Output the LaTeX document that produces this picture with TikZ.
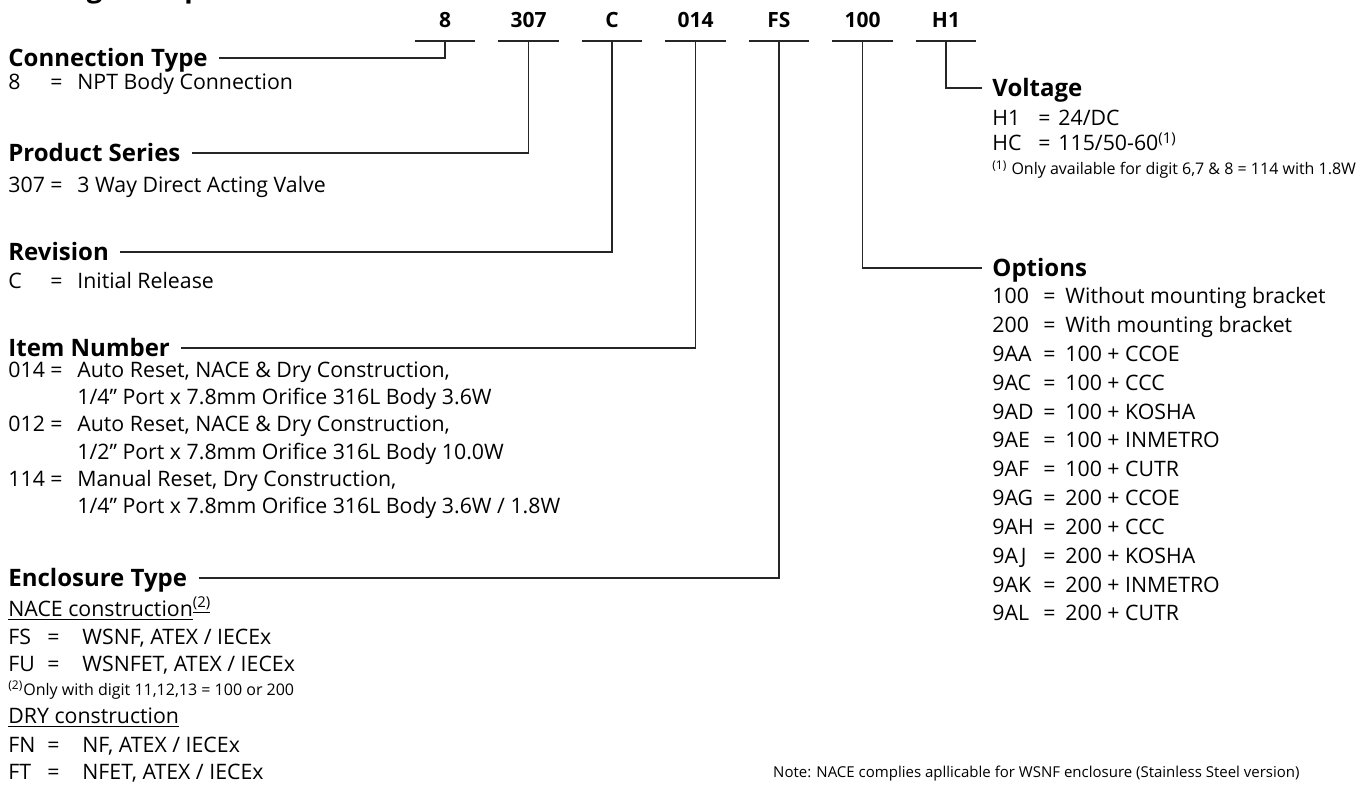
\documentclass[tikz,border=0pt]{standalone}
\usepackage{fontspec}
\setmainfont{Open Sans}

\newcommand{\headfont}{\bfseries\fontsize{12pt}{14pt}\selectfont}
\newcommand{\codefont}{\bfseries\fontsize{10.5pt}{12pt}\selectfont}
\newcommand{\itemfont}{\fontsize{10.65pt}{13pt}\selectfont}
\newcommand{\notefont}{\fontsize{7.5pt}{9pt}\selectfont}
% code column, "=" column, then the value
\newcommand{\entry}[4]{\makebox[#1][l]{#3}\makebox[#2][l]{=}#4}

\tikzset{
  head/.style={anchor=west, inner sep=0pt, text height=8.5pt, text depth=0pt, font=\headfont},
  code/.style={anchor=base, inner sep=0pt, minimum width=30pt, text depth=6.4pt, font=\codefont},
  item/.style={anchor=base west, inner sep=0pt, font=\itemfont},
  foot/.style={anchor=base west, inner sep=0pt, font=\fontsize{8pt}{9pt}\selectfont},
  lead/.style={line width=0.75pt, black!85},
}

\begin{document}
\begin{tikzpicture}[x=0.5pt, y=-0.5pt]
  \useasboundingbox (0,0) rectangle (1370,785);
  \clip (0,0) rectangle (1370,785);
  \node[anchor=base west, inner sep=0pt, font=\bfseries\fontsize{13.75pt}{16pt}\selectfont] (title) at (8,-2.6) {Coding Example};

  % code digits with their underlines
  \foreach \c [count=\i] in {8,307,C,014,FS,100,H1} {
    \node[code] (k\i) at ({445+83.5*(\i-1)},28) {\c};
    \draw[lead] (k\i.south west) -- (k\i.south east);
  }

  % left column
  \node[head] (conn) at (8,58) {Connection Type};
  \node[item] (conn1) at (8,90) {\entry{21pt}{13.5pt}{8}{NPT Body Connection}};

  \node[head] (series) at (8,153) {Product Series};
  \node[item] (series1) at (8,192.5) {\entry{21pt}{13.5pt}{307}{3 Way Direct Acting Valve}};

  \node[head] (rev) at (8,252) {Revision};
  \node[item] (rev1) at (8,288.5) {\entry{21pt}{13.5pt}{C}{Initial Release}};

  \node[head] (item) at (8,348) {Item Number};
  \node[item] (item1) at (8,378) {\entry{21pt}{13.5pt}{014}{Auto Reset, NACE \& Dry Construction,}};
  \node[item] (item1b) at (77,405) {1/4” Port x 7.8mm Orifice 316L Body 3.6W};
  \node[item] (item2) at (8,432) {\entry{21pt}{13.5pt}{012}{Auto Reset, NACE \& Dry Construction,}};
  \node[item] (item2b) at (77,460) {1/2” Port x 7.8mm Orifice 316L Body 10.0W};
  \node[item] (item3) at (8,487) {\entry{21pt}{13.5pt}{114}{Manual Reset, Dry Construction,}};
  \node[item] (item3b) at (77,514) {1/4” Port x 7.8mm Orifice 316L Body 3.6W / 1.8W};

  \node[head] (encl) at (8,578) {Enclosure Type};
  \node[item] (nace) at (8,616) {\underline{NACE construction}\textsuperscript{\underline{(2)}}};
  \node[item] (encl1) at (8,644) {\entry{19.5pt}{17.5pt}{FS}{WSNF, ATEX / IECEx}};
  \node[item] (encl2) at (8,671) {\entry{19.5pt}{17.5pt}{FU}{WSNFET, ATEX / IECEx}};
  \node[foot] (nacefoot) at (8,695) {\textsuperscript{(2)}Only with digit 11,12,13 = 100 or 200};
  \node[item] (dry) at (8,723) {\underline{DRY construction}};
  \node[item] (encl3) at (8,752) {\entry{19.5pt}{17.5pt}{FN}{NF, ATEX / IECEx}};
  \node[item] (encl4) at (8,779) {\entry{19.5pt}{17.5pt}{FT}{NFET, ATEX / IECEx}};

  % right column
  \node[head] (volt) at (992,88) {Voltage};
  \node[item] (volt1) at (992,126) {\entry{23pt}{10pt}{H1}{24/DC}};
  \node[item] (volt2) at (992,151) {\entry{23pt}{10pt}{HC}{115/50-60\textsuperscript{(1)}}};
  \node[foot] (voltfoot) at (992,175) {\textsuperscript{(1)} Only available for digit 6,7 \& 8 = 114 with 1.8W};

  \node[head] (opt) at (992,268) {Options};
  \foreach \k/\v [count=\i] in {100/Without mounting bracket, 200/With mounting bracket,
      9AA/100 + CCOE, 9AC/100 + CCC, 9AD/100 + KOSHA, 9AE/100 + INMETRO, 9AF/100 + CUTR,
      9AG/200 + CCOE, 9AH/200 + CCC, 9AJ/200 + KOSHA, 9AK/200 + INMETRO, 9AL/200 + CUTR}
    \node[item] (opt\i) at (992,{304+28.8*(\i-1)}) {\entry{25.5pt}{11pt}{\k}{\v}};

  \node[anchor=base east, inner sep=0pt, font=\notefont] (note) at (1300,777) {Note: NACE complies apllicable for WSNF enclosure (Stainless Steel version)};

  % leaders from the headings to the code digits
  \draw[lead] ([xshift=5.5pt]conn.east) -| (k1.south);
  \draw[lead] ([xshift=5.5pt]series.east) -| (k2.south);
  \draw[lead] ([xshift=5.5pt]rev.east) -| (k3.south);
  \draw[lead] ([xshift=5.5pt]item.east) -| (k4.south);
  \draw[lead] ([xshift=5.5pt]encl.east) -| (k5.south);
  \draw[lead] (k6.south) |- ([xshift=-5pt]opt.west);
  \draw[lead] (k7.south) |- ([xshift=-5pt]volt.west);
\end{tikzpicture}
\end{document}
